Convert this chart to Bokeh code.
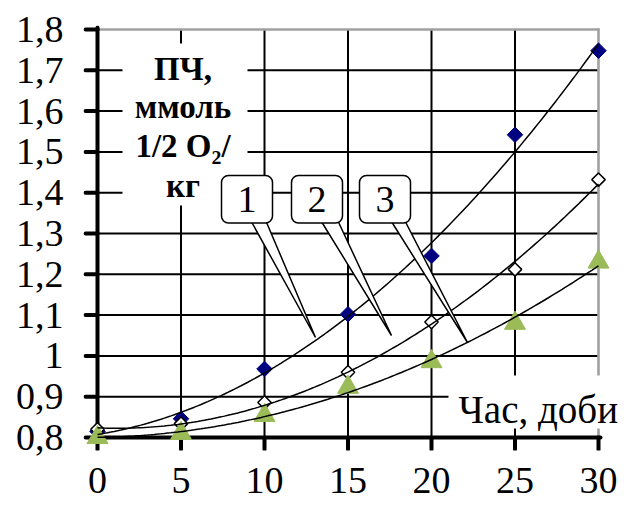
import numpy as np
from bokeh.plotting import figure
from bokeh.models import Range1d, FixedTicker
from bokeh.core.properties import value
from bokeh.embed import file_html
from bokeh.resources import INLINE

# ---------------- data ----------------
days = [0, 5, 10, 15, 20, 25, 30]
series1 = [0.815, 0.846, 0.968, 1.102, 1.245, 1.542, 1.748]
series2 = [0.820, 0.834, 0.886, 0.960, 1.083, 1.212, 1.432]
series3 = [0.800, 0.810, 0.854, 0.923, 0.986, 1.080, 1.230]
series_labels = ["1", "2", "3"]

x_ticks = [0, 5, 10, 15, 20, 25, 30]
y_ticks = [0.8, 0.9, 1.0, 1.1, 1.2, 1.3, 1.4, 1.5, 1.6, 1.7, 1.8]
y_tick_labels = ["0,8", "0,9", "1", "1,1", "1,2", "1,3", "1,4", "1,5", "1,6", "1,7", "1,8"]
y_title_lines = ["ПЧ,", "ммоль", "1/2 O₂/", "кг"]
x_title = "Час, доби"

# ---------------- layout (pixels) ----------------
W, H = 624, 510
X0_PX, X1_PX = 97, 598      # pixel of first / last x tick
Y0_PX, Y1_PX = 437, 29      # pixel of first / last y tick
FRAME_L, FRAME_R, FRAME_T, FRAME_B = 83, 624, 25, 450
SERIF = "Liberation Serif"
GRID_GRAY = "#a0a0a0"
NAVY = "#000080"
GREEN = "#9bbb59"

xmin, xmax = x_ticks[0], x_ticks[-1]
ymin, ymax = y_ticks[0], y_ticks[-1]
xmid, ymid = (xmin + xmax) / 2, (ymin + ymax) / 2
sx = (X1_PX - X0_PX) / (xmax - xmin)
sy = (Y0_PX - Y1_PX) / (ymax - ymin)
plot_w_px = (xmax - xmin) * sx
plot_h_px = (ymax - ymin) * sy


def dx(px):
    return xmin + (px - X0_PX) / sx


def dy(py):
    return ymin + (Y0_PX - py) / sy


p = figure(width=W, height=H,
           x_range=Range1d(dx(FRAME_L), dx(FRAME_R)),
           y_range=Range1d(dy(FRAME_B), dy(FRAME_T)),
           output_backend="svg", toolbar_location=None,
           min_border_left=FRAME_L, min_border_right=W - FRAME_R,
           min_border_top=FRAME_T, min_border_bottom=H - FRAME_B)
p.outline_line_color = None
p.grid.visible = False

for ax in (p.xaxis, p.yaxis):
    ax.axis_line_color = None
    ax.major_tick_line_color = None
    ax.minor_tick_line_color = None
    ax.major_tick_out = 0
    ax.major_tick_in = 0
    ax.minor_tick_out = 0
    ax.minor_tick_in = 0
    ax.major_label_text_font = SERIF
    ax.major_label_text_font_size = "38px"
    ax.major_label_text_color = "black"

p.xaxis.ticker = FixedTicker(ticks=x_ticks)
p.yaxis.ticker = FixedTicker(ticks=y_ticks)
p.yaxis.major_label_overrides = dict(zip(y_ticks, y_tick_labels))
p.yaxis.major_label_standoff = 20
p.xaxis.major_label_standoff = 17

# ---------------- inner grid ----------------
gx = x_ticks[1:-1]
p.segment(x0=gx, y0=[ymin] * len(gx), x1=gx, y1=[ymax] * len(gx),
          line_color="black", line_width=2)
gy = y_ticks[1:-1]
p.segment(x0=[xmin] * len(gy), y0=gy, x1=[xmax] * len(gy), y1=gy,
          line_color="black", line_width=2)

# grey top / right border, drawn as long "dash" markers
p.scatter(x=[xmid], y=[ymax], marker="dash", size=plot_w_px + 2, angle=0,
          line_color=GRID_GRAY, line_width=2.6)
p.scatter(x=[xmax], y=[ymid], marker="dash", size=plot_h_px + 2, angle=np.pi / 2,
          line_color=GRID_GRAY, line_width=2.6)

# white background behind the titles
p.quad(left=[dx(122), dx(448)], right=[dx(247), dx(W)],
       top=[dy(43), dy(375)], bottom=[dy(205), dy(428)],
       fill_color="white", line_color=None)

# ---------------- axis lines and ticks (dash markers) ----------------
tick_len = 12
p.scatter(x=[xmin], y=[ymid], marker="dash", size=plot_h_px + 4, angle=np.pi / 2,
          line_color="black", line_width=4, line_cap="round")
p.scatter(x=[xmid], y=[ymin], marker="dash", size=plot_w_px + 4, angle=0,
          line_color="black", line_width=4, line_cap="round")
p.scatter(x=[xmin - tick_len / 2 / sx] * len(y_ticks), y=y_ticks, marker="dash",
          size=tick_len, angle=0, line_color="black", line_width=4, line_cap="round")
p.scatter(x=x_ticks, y=[ymin - tick_len / 2 / sy] * len(x_ticks), marker="dash",
          size=tick_len, angle=np.pi / 2, line_color="black", line_width=4,
          line_cap="round")

# ---------------- markers ----------------
p.scatter(days, series1, marker="square", angle=np.pi / 4, size=11,
          fill_color=NAVY, line_color=NAVY, line_width=1)
p.scatter(days, series2, marker="square", angle=np.pi / 4, size=9.5,
          fill_color="white", line_color="black", line_width=1.5)
p.scatter(days, series3, marker="triangle", size=21,
          fill_color=GREEN, line_color=GREEN, line_width=1)

# ---------------- polynomial trend lines ----------------
xf = np.linspace(xmin, xmax, 151)
for s in (series1, series2, series3):
    coef = np.polyfit(days, s, 2)
    p.line(xf, np.polyval(coef, xf), line_color="black", line_width=1.5)

# ---------------- callouts ----------------
box_left_px = [221, 291, 359]
box_w_px, box_top_px, box_bot_px = 51, 175, 222.5
wedge_base_px = [(250, 265), (320, 337), (390, 404)]
wedge_tip_px = [(315, 337), (391, 335), (467, 342)]
for (bl, br), (tx, ty) in zip(wedge_base_px, wedge_tip_px):
    p.patch([dx(bl), dx(tx), dx(br)], [dy(box_bot_px - 3), dy(ty), dy(box_bot_px - 3)],
            fill_color="white", line_color="black", line_width=1.5)
p.quad(left=[dx(b) for b in box_left_px], right=[dx(b + box_w_px) for b in box_left_px],
       top=[dy(box_top_px)] * 3, bottom=[dy(box_bot_px)] * 3,
       fill_color="white", line_color="black", line_width=1.5, border_radius=7)
p.text(x=[dx(b + box_w_px / 2) for b in box_left_px], y=[dy(199)] * 3,
       text=series_labels, text_align="center", text_baseline="middle",
       text_font=value(SERIF), text_font_size="38px", text_color="black")

# ---------------- titles (text glyphs) ----------------
p.text(x=[dx(182.5)] * len(y_title_lines), y=[dy(m) for m in [68.2, 106.2, 145.6, 185.6]],
       text=y_title_lines, text_align="center", text_baseline="middle",
       text_font=value(SERIF), text_font_size="33px", text_font_style="bold",
       text_color="black")
p.text(x=[dx(458)], y=[dy(408.5)], text=[x_title], text_align="left",
       text_baseline="middle", text_font=value(SERIF), text_font_size="39px",
       text_color="black")

open("out.html", "w").write(file_html(p, INLINE))
